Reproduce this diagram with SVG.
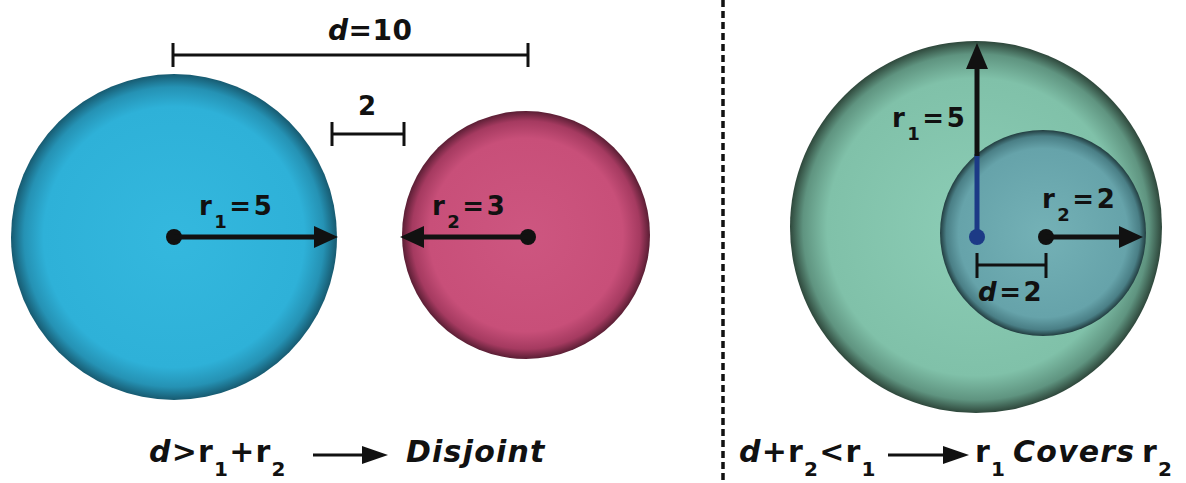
<svg xmlns="http://www.w3.org/2000/svg" width="1186" height="483" viewBox="0 0 1186 483">
<defs>
<radialGradient id="gBlue" cx="50%" cy="50%" r="50%">
<stop offset="0%" stop-color="#34b8de"/>
<stop offset="80%" stop-color="#2eb1d8"/>
<stop offset="92%" stop-color="#2592b4"/>
<stop offset="100%" stop-color="#175a70"/>
</radialGradient>
<radialGradient id="gPink" cx="50%" cy="50%" r="50%">
<stop offset="0%" stop-color="#cd5680"/>
<stop offset="78%" stop-color="#c84f79"/>
<stop offset="92%" stop-color="#a53a60"/>
<stop offset="100%" stop-color="#5a1e34"/>
</radialGradient>
<radialGradient id="gGreen" cx="50%" cy="50%" r="50%">
<stop offset="0%" stop-color="#8ccdb6"/>
<stop offset="80%" stop-color="#80c1a9"/>
<stop offset="93%" stop-color="#5f9480"/>
<stop offset="100%" stop-color="#2e473b"/>
</radialGradient>
<radialGradient id="gTeal" cx="50%" cy="50%" r="50%">
<stop offset="0%" stop-color="#74b1b6"/>
<stop offset="82%" stop-color="#66a3aa"/>
<stop offset="94%" stop-color="#4a7f86"/>
<stop offset="100%" stop-color="#223d40"/>
</radialGradient>
<style>
.t{font-family:"DejaVu Sans",Verdana,sans-serif;font-weight:bold;fill:#111}
.it{font-style:italic}
.lab{font-size:26px;letter-spacing:2.5px}
.sub{font-size:18px}
.bot{font-size:30px;letter-spacing:1.2px}
.bsub{font-size:20px}
.ln{stroke:#111;stroke-width:5;fill:none}
.bar{stroke:#111;stroke-width:3;fill:none}
.head{fill:#111}
.dot{fill:#111}
</style>
</defs>

<g id="divider">
<line x1="723" y1="0" x2="723" y2="483" stroke="#111" stroke-width="3.5" stroke-dasharray="7 4"/>
</g>

<g id="circle-r1-left">
<circle cx="174" cy="237" r="163" fill="url(#gBlue)"/>
</g>
<g id="circle-r2-left">
<circle cx="526" cy="235" r="124" fill="url(#gPink)"/>
</g>
<g id="circle-r1-right">
<circle cx="976" cy="227" r="186" fill="url(#gGreen)"/>
</g>
<g id="circle-r2-right">
<circle cx="1043" cy="233" r="103" fill="url(#gTeal)"/>
</g>

<g id="connectors">
<!-- d=10 bar -->
<line class="bar" x1="173" y1="55" x2="528" y2="55"/>
<line class="bar" x1="173" y1="43" x2="173" y2="67"/>
<line class="bar" x1="528" y1="43" x2="528" y2="67"/>
<!-- gap 2 bar -->
<line class="bar" x1="332" y1="134" x2="404" y2="134"/>
<line class="bar" x1="332" y1="122" x2="332" y2="146"/>
<line class="bar" x1="404" y1="122" x2="404" y2="146"/>
<!-- r1 left arrow -->
<circle class="dot" cx="174" cy="237" r="8"/>
<line class="ln" x1="174" y1="237" x2="320" y2="237"/>
<polygon class="head" points="338,237 314,226 314,248"/>
<!-- r2 left arrow -->
<circle class="dot" cx="528" cy="237" r="8"/>
<line class="ln" x1="528" y1="237" x2="418" y2="237"/>
<polygon class="head" points="400,237 424,226 424,248"/>
<!-- r1 right arrow -->
<line x1="977" y1="237" x2="977" y2="154" stroke="#1c3a86" stroke-width="5"/>
<line class="ln" x1="977" y1="156" x2="977" y2="62"/>
<polygon class="head" points="977,43 966,69 988,69"/>
<circle cx="977" cy="237" r="8" fill="#1c3a86"/>
<!-- r2 right arrow -->
<circle class="dot" cx="1046" cy="237" r="8"/>
<line class="ln" x1="1046" y1="237" x2="1124" y2="237"/>
<polygon class="head" points="1143,237 1119,226 1119,248"/>
<!-- d=2 bar -->
<line class="bar" x1="977" y1="265" x2="1046" y2="265"/>
<line class="bar" x1="977" y1="253" x2="977" y2="278"/>
<line class="bar" x1="1046" y1="253" x2="1046" y2="278"/>
<!-- bottom arrows -->
<line x1="313" y1="455" x2="365" y2="455" stroke="#111" stroke-width="3"/>
<polygon class="head" points="388,455 362,446 362,464"/>
<line x1="888" y1="455" x2="945" y2="455" stroke="#111" stroke-width="3"/>
<polygon class="head" points="969,455 943,446 943,464"/>
</g>

<g id="labels">
<text class="t" x="328" y="40" font-size="28" letter-spacing="0.5"><tspan class="it">d</tspan>=10</text>
<text class="t" x="367" y="115" font-size="26" text-anchor="middle">2</text>
<text class="t lab" x="199" y="215">r<tspan class="sub" dy="13">1</tspan><tspan dy="-13">=5</tspan></text>
<text class="t lab" x="432" y="215">r<tspan class="sub" dy="13">2</tspan><tspan dy="-13">=3</tspan></text>
<text class="t lab" x="892" y="127">r<tspan class="sub" dy="13">1</tspan><tspan dy="-13">=5</tspan></text>
<text class="t lab" x="1042" y="208">r<tspan class="sub" dy="13">2</tspan><tspan dy="-13">=2</tspan></text>
<text class="t lab" x="978" y="301"><tspan class="it">d</tspan>=2</text>

<text class="t bot" x="149" y="462"><tspan class="it">d</tspan>&gt;r<tspan class="bsub" dy="14">1</tspan><tspan dy="-14">+r</tspan><tspan class="bsub" dy="14">2</tspan></text>
<text class="t bot it" x="406" y="462">Disjoint</text>

<text class="t bot" x="739" y="462"><tspan class="it">d</tspan>+r<tspan class="bsub" dy="14">2</tspan><tspan dy="-14">&lt;r</tspan><tspan class="bsub" dy="14">1</tspan></text>
<text class="t bot" x="975" y="462">r<tspan class="bsub" dy="14">1</tspan><tspan class="it" x="1013" dy="-14">Covers</tspan><tspan x="1142">r</tspan><tspan class="bsub" dy="14">2</tspan></text>
</g>
</svg>
